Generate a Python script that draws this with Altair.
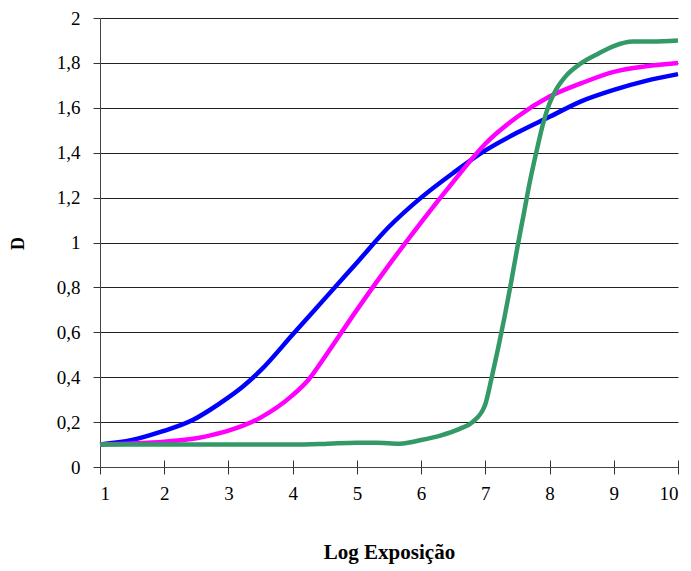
import altair as alt
import pandas as pd

# Blue curve
blue_x = [1, 1.5, 1.93, 2.45, 2.71, 3, 3.23, 3.5, 4, 4.5, 5, 5.5, 6, 6.5, 7, 7.5, 8, 8.5, 9, 9.5, 10]
blue_y = [0.10, 0.12, 0.155, 0.21, 0.254, 0.31, 0.36, 0.43, 0.59, 0.75, 0.91, 1.07, 1.20, 1.31, 1.41, 1.49, 1.56, 1.63, 1.68, 1.72, 1.75]

# Magenta curve
mag_x = [1, 1.5, 2, 2.5, 2.75, 3, 3.5, 4, 4.25, 4.5, 5, 5.5, 6, 6.5, 7, 7.5, 8, 8.5, 9, 9.5, 10]
mag_y = [0.10, 0.105, 0.113, 0.128, 0.143, 0.162, 0.22, 0.32, 0.39, 0.49, 0.70, 0.90, 1.09, 1.27, 1.44, 1.56, 1.65, 1.71, 1.76, 1.785, 1.80]

# Green curve
green_x = [1, 2, 3, 4, 4.5, 5, 5.3, 5.67, 6, 6.3, 6.6, 6.8, 7.0, 7.1, 7.2, 7.3, 7.4, 7.5, 7.6, 7.7, 7.8, 7.9, 8.0, 8.1, 8.25, 8.5, 8.75, 9.0, 9.3, 9.6, 10]
green_y = [0.10, 0.10, 0.10, 0.10, 0.103, 0.108, 0.108, 0.104, 0.12, 0.14, 0.17, 0.20, 0.28, 0.40, 0.53, 0.67, 0.82, 0.98, 1.13, 1.28, 1.41, 1.53, 1.62, 1.68, 1.74, 1.80, 1.84, 1.875, 1.895, 1.895, 1.90]

series_names = ["blue", "magenta", "green"]
series_colors = ["#0000FF", "#FF00FF", "#339966"]

x_ticks = [1, 2, 3, 4, 5, 6, 7, 8, 9, 10]
y_ticks = [0, 0.2, 0.4, 0.6, 0.8, 1.0, 1.2, 1.4, 1.6, 1.8, 2.0]

x_title = "Log Exposição"
y_title = "D"

rows = []
for name, xs, ys in zip(series_names, [blue_x, mag_x, green_x], [blue_y, mag_y, green_y]):
    for i, (a, b) in enumerate(zip(xs, ys)):
        rows.append({"series": name, "x": a, "y": b, "i": i})
df = pd.DataFrame(rows)

FONT = "Liberation Serif"

xscale = alt.Scale(domain=[1, 10], nice=False, zero=False)
yscale = alt.Scale(domain=[0, 2], nice=False)

x_axis = alt.Axis(
    values=x_ticks, title=x_title, grid=False, tickSize=7, tickColor="#333",
    domainColor="#444", labelFont=FONT, labelFontSize=19, labelColor="#000",
    labelPadding=10, titleFont=FONT, titleFontSize=21, titleFontWeight="bold",
    titleColor="#000", titlePadding=38, orient="bottom",
)
y_axis = alt.Axis(
    values=y_ticks, title=y_title, grid=True, gridColor="#222", gridWidth=1,
    tickSize=7, tickColor="#333", domainColor="#444", labelFont=FONT, labelFontSize=19,
    labelColor="#000", labelPadding=13,
    labelExpr="replace(format(datum.value, '.1~f'), '.', ',')",
    titleFont=FONT, titleFontSize=18, titleFontWeight="bold", titleColor="#000",
    titleAngle=-90, titleX=-82, titleY=225, titleAlign="center", titleBaseline="middle",
    orient="left",
)

layers = []
for k, (name, col) in enumerate(zip(series_names, series_colors)):
    layers.append(
        alt.Chart(df).transform_filter(alt.datum.series == name)
        .mark_line(color=col, strokeWidth=4.5, interpolate="monotone")
        .encode(
            x=alt.X("x:Q", scale=xscale, axis=x_axis),
            y=alt.Y("y:Q", scale=yscale, axis=y_axis),
            order="i:Q",
        )
    )

lines = alt.layer(*layers)

# inward half of the crossing x ticks
inner_ticks = (
    alt.Chart(df).transform_filter(alt.datum.series == "blue")
    .mark_line(opacity=0)
    .encode(
        x=alt.X("x:Q", scale=xscale, axis=alt.Axis(
            values=x_ticks, orient="bottom", offset=-7, tickSize=7, tickColor="#333",
            labels=False, domain=False, grid=False, title=None)),
        y=alt.Y("y:Q", scale=yscale, axis=y_axis),
    )
)

chart = (
    alt.layer(lines, inner_ticks)
    .resolve_axis(x="independent")
    .properties(
        width=578, height=449,
        autosize=alt.AutoSizeParams(type="none"),
        padding={"left": 100, "top": 18, "right": 13, "bottom": 104},
        background="white",
    )
    .configure_view(stroke=None)
)

chart.save("out.html", embed_options={"renderer": "svg", "actions": False})
